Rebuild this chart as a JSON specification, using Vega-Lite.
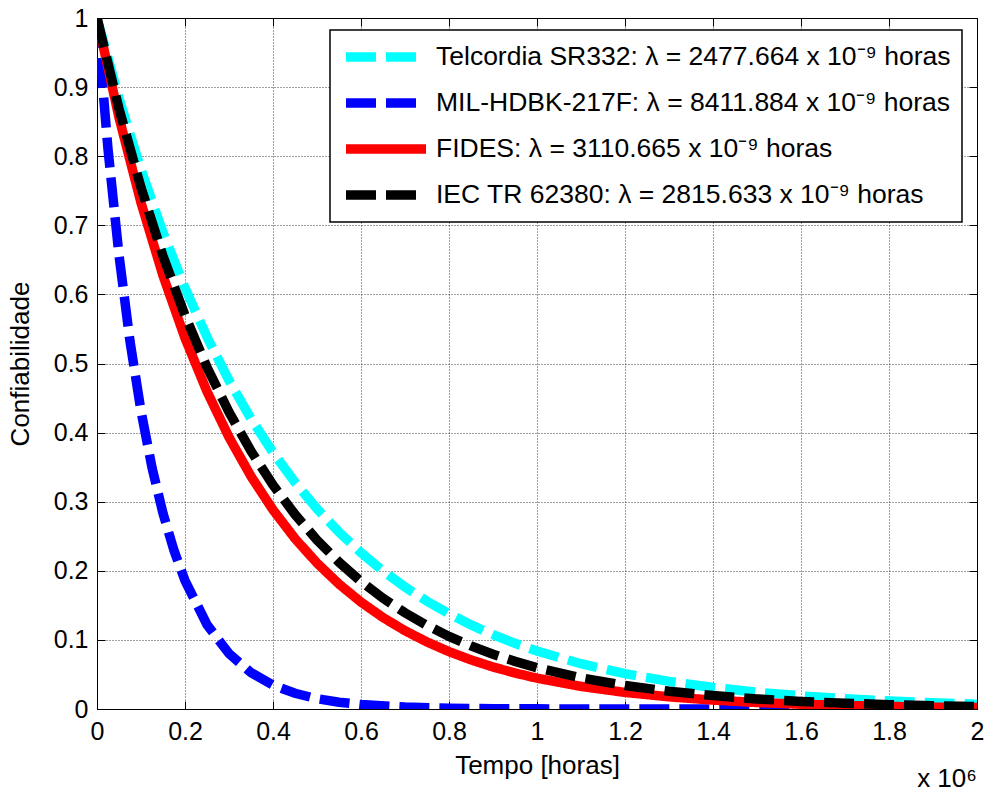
{
  "$schema": "https://vega.github.io/schema/vega-lite/v6.json",
  "autosize": "none",
  "width": 880,
  "height": 691,
  "padding": {"left": 97, "top": 18, "right": 9, "bottom": 83},
  "background": "white",
  "datasets": {
    "curvas": [
      {"serie": "Telcordia SR332", "tempo": 0, "R": 1},
      {"serie": "Telcordia SR332", "tempo": 0.05, "R": 0.8835},
      {"serie": "Telcordia SR332", "tempo": 0.1, "R": 0.7805},
      {"serie": "Telcordia SR332", "tempo": 0.15, "R": 0.6896},
      {"serie": "Telcordia SR332", "tempo": 0.2, "R": 0.6093},
      {"serie": "Telcordia SR332", "tempo": 0.25, "R": 0.5383},
      {"serie": "Telcordia SR332", "tempo": 0.3, "R": 0.4755},
      {"serie": "Telcordia SR332", "tempo": 0.35, "R": 0.4201},
      {"serie": "Telcordia SR332", "tempo": 0.4, "R": 0.3712},
      {"serie": "Telcordia SR332", "tempo": 0.45, "R": 0.3279},
      {"serie": "Telcordia SR332", "tempo": 0.5, "R": 0.2897},
      {"serie": "Telcordia SR332", "tempo": 0.55, "R": 0.256},
      {"serie": "Telcordia SR332", "tempo": 0.6, "R": 0.2261},
      {"serie": "Telcordia SR332", "tempo": 0.65, "R": 0.1998},
      {"serie": "Telcordia SR332", "tempo": 0.7, "R": 0.1765},
      {"serie": "Telcordia SR332", "tempo": 0.75, "R": 0.1559},
      {"serie": "Telcordia SR332", "tempo": 0.8, "R": 0.1378},
      {"serie": "Telcordia SR332", "tempo": 0.85, "R": 0.1217},
      {"serie": "Telcordia SR332", "tempo": 0.9, "R": 0.1075},
      {"serie": "Telcordia SR332", "tempo": 0.95, "R": 0.095},
      {"serie": "Telcordia SR332", "tempo": 1.0, "R": 0.0839},
      {"serie": "Telcordia SR332", "tempo": 1.1, "R": 0.0655},
      {"serie": "Telcordia SR332", "tempo": 1.2, "R": 0.0511},
      {"serie": "Telcordia SR332", "tempo": 1.3, "R": 0.0399},
      {"serie": "Telcordia SR332", "tempo": 1.4, "R": 0.0312},
      {"serie": "Telcordia SR332", "tempo": 1.5, "R": 0.0243},
      {"serie": "Telcordia SR332", "tempo": 1.6, "R": 0.019},
      {"serie": "Telcordia SR332", "tempo": 1.7, "R": 0.0148},
      {"serie": "Telcordia SR332", "tempo": 1.8, "R": 0.0116},
      {"serie": "Telcordia SR332", "tempo": 1.9, "R": 0.009},
      {"serie": "Telcordia SR332", "tempo": 2.0, "R": 0.007},
      {"serie": "MIL-HDBK-217F", "tempo": 0, "R": 1},
      {"serie": "MIL-HDBK-217F", "tempo": 0.025, "R": 0.8103},
      {"serie": "MIL-HDBK-217F", "tempo": 0.05, "R": 0.6566},
      {"serie": "MIL-HDBK-217F", "tempo": 0.075, "R": 0.5321},
      {"serie": "MIL-HDBK-217F", "tempo": 0.1, "R": 0.4312},
      {"serie": "MIL-HDBK-217F", "tempo": 0.125, "R": 0.3494},
      {"serie": "MIL-HDBK-217F", "tempo": 0.15, "R": 0.2831},
      {"serie": "MIL-HDBK-217F", "tempo": 0.175, "R": 0.2294},
      {"serie": "MIL-HDBK-217F", "tempo": 0.2, "R": 0.1859},
      {"serie": "MIL-HDBK-217F", "tempo": 0.25, "R": 0.1221},
      {"serie": "MIL-HDBK-217F", "tempo": 0.3, "R": 0.0802},
      {"serie": "MIL-HDBK-217F", "tempo": 0.35, "R": 0.0527},
      {"serie": "MIL-HDBK-217F", "tempo": 0.4, "R": 0.0346},
      {"serie": "MIL-HDBK-217F", "tempo": 0.45, "R": 0.0227},
      {"serie": "MIL-HDBK-217F", "tempo": 0.5, "R": 0.0149},
      {"serie": "MIL-HDBK-217F", "tempo": 0.55, "R": 0.0098},
      {"serie": "MIL-HDBK-217F", "tempo": 0.6, "R": 0.0064},
      {"serie": "MIL-HDBK-217F", "tempo": 0.7, "R": 0.0028},
      {"serie": "MIL-HDBK-217F", "tempo": 0.8, "R": 0.0012},
      {"serie": "MIL-HDBK-217F", "tempo": 0.9, "R": 0.0005},
      {"serie": "MIL-HDBK-217F", "tempo": 1.0, "R": 0.0002},
      {"serie": "MIL-HDBK-217F", "tempo": 1.2, "R": 0.00004},
      {"serie": "MIL-HDBK-217F", "tempo": 1.4, "R": 0},
      {"serie": "MIL-HDBK-217F", "tempo": 1.6, "R": 0},
      {"serie": "MIL-HDBK-217F", "tempo": 1.8, "R": 0},
      {"serie": "MIL-HDBK-217F", "tempo": 2.0, "R": 0},
      {"serie": "FIDES", "tempo": 0, "R": 1},
      {"serie": "FIDES", "tempo": 0.05, "R": 0.856},
      {"serie": "FIDES", "tempo": 0.1, "R": 0.7327},
      {"serie": "FIDES", "tempo": 0.15, "R": 0.6272},
      {"serie": "FIDES", "tempo": 0.2, "R": 0.5368},
      {"serie": "FIDES", "tempo": 0.25, "R": 0.4595},
      {"serie": "FIDES", "tempo": 0.3, "R": 0.3933},
      {"serie": "FIDES", "tempo": 0.35, "R": 0.3367},
      {"serie": "FIDES", "tempo": 0.4, "R": 0.2882},
      {"serie": "FIDES", "tempo": 0.45, "R": 0.2467},
      {"serie": "FIDES", "tempo": 0.5, "R": 0.2112},
      {"serie": "FIDES", "tempo": 0.55, "R": 0.1808},
      {"serie": "FIDES", "tempo": 0.6, "R": 0.1547},
      {"serie": "FIDES", "tempo": 0.65, "R": 0.1324},
      {"serie": "FIDES", "tempo": 0.7, "R": 0.1133},
      {"serie": "FIDES", "tempo": 0.75, "R": 0.097},
      {"serie": "FIDES", "tempo": 0.8, "R": 0.083},
      {"serie": "FIDES", "tempo": 0.85, "R": 0.0711},
      {"serie": "FIDES", "tempo": 0.9, "R": 0.0608},
      {"serie": "FIDES", "tempo": 0.95, "R": 0.0521},
      {"serie": "FIDES", "tempo": 1.0, "R": 0.0446},
      {"serie": "FIDES", "tempo": 1.1, "R": 0.0327},
      {"serie": "FIDES", "tempo": 1.2, "R": 0.024},
      {"serie": "FIDES", "tempo": 1.3, "R": 0.0176},
      {"serie": "FIDES", "tempo": 1.4, "R": 0.0129},
      {"serie": "FIDES", "tempo": 1.5, "R": 0.0094},
      {"serie": "FIDES", "tempo": 1.6, "R": 0.0069},
      {"serie": "FIDES", "tempo": 1.7, "R": 0.0051},
      {"serie": "FIDES", "tempo": 1.8, "R": 0.0037},
      {"serie": "FIDES", "tempo": 1.9, "R": 0.0027},
      {"serie": "FIDES", "tempo": 2.0, "R": 0.002},
      {"serie": "IEC TR 62380", "tempo": 0, "R": 1},
      {"serie": "IEC TR 62380", "tempo": 0.05, "R": 0.8687},
      {"serie": "IEC TR 62380", "tempo": 0.1, "R": 0.7546},
      {"serie": "IEC TR 62380", "tempo": 0.15, "R": 0.6555},
      {"serie": "IEC TR 62380", "tempo": 0.2, "R": 0.5694},
      {"serie": "IEC TR 62380", "tempo": 0.25, "R": 0.4946},
      {"serie": "IEC TR 62380", "tempo": 0.3, "R": 0.4297},
      {"serie": "IEC TR 62380", "tempo": 0.35, "R": 0.3733},
      {"serie": "IEC TR 62380", "tempo": 0.4, "R": 0.3242},
      {"serie": "IEC TR 62380", "tempo": 0.45, "R": 0.2816},
      {"serie": "IEC TR 62380", "tempo": 0.5, "R": 0.2446},
      {"serie": "IEC TR 62380", "tempo": 0.55, "R": 0.2125},
      {"serie": "IEC TR 62380", "tempo": 0.6, "R": 0.1846},
      {"serie": "IEC TR 62380", "tempo": 0.65, "R": 0.1604},
      {"serie": "IEC TR 62380", "tempo": 0.7, "R": 0.1393},
      {"serie": "IEC TR 62380", "tempo": 0.75, "R": 0.121},
      {"serie": "IEC TR 62380", "tempo": 0.8, "R": 0.1051},
      {"serie": "IEC TR 62380", "tempo": 0.85, "R": 0.0913},
      {"serie": "IEC TR 62380", "tempo": 0.9, "R": 0.0793},
      {"serie": "IEC TR 62380", "tempo": 0.95, "R": 0.0689},
      {"serie": "IEC TR 62380", "tempo": 1.0, "R": 0.0598},
      {"serie": "IEC TR 62380", "tempo": 1.1, "R": 0.0451},
      {"serie": "IEC TR 62380", "tempo": 1.2, "R": 0.0341},
      {"serie": "IEC TR 62380", "tempo": 1.3, "R": 0.0257},
      {"serie": "IEC TR 62380", "tempo": 1.4, "R": 0.0194},
      {"serie": "IEC TR 62380", "tempo": 1.5, "R": 0.0146},
      {"serie": "IEC TR 62380", "tempo": 1.6, "R": 0.011},
      {"serie": "IEC TR 62380", "tempo": 1.7, "R": 0.0083},
      {"serie": "IEC TR 62380", "tempo": 1.8, "R": 0.0063},
      {"serie": "IEC TR 62380", "tempo": 1.9, "R": 0.0048},
      {"serie": "IEC TR 62380", "tempo": 2.0, "R": 0.0036}
    ],
    "escala": [
      {"tempo": 2, "R": -0.101, "rotulo": "x 10⁶"}
    ]
  },
  "layer": [
    {
      "data": {"name": "curvas"},
      "mark": {"type": "line", "strokeWidth": 9.5, "strokeCap": "butt", "clip": true},
      "encoding": {
        "x": {
          "field": "tempo", "type": "quantitative",
          "scale": {"domain": [0, 2], "nice": false, "zero": false},
          "axis": {
            "orient": "bottom",
            "title": "Tempo [horas]",
            "values": [0, 0.2, 0.4, 0.6, 0.8, 1, 1.2, 1.4, 1.6, 1.8, 2],
            "format": "~g",
            "labelPadding": 18,
            "titlePadding": 8,
            "grid": true
          }
        },
        "y": {
          "field": "R", "type": "quantitative",
          "scale": {"domain": [0, 1], "nice": false, "zero": false},
          "axis": {
            "orient": "left",
            "title": "Confiabilidade",
            "values": [0, 0.1, 0.2, 0.3, 0.4, 0.5, 0.6, 0.7, 0.8, 0.9, 1],
            "format": "~g",
            "labelPadding": 17,
            "titlePadding": 20,
            "grid": true
          }
        },
        "color": {
          "field": "serie", "type": "nominal",
          "scale": {
            "domain": ["Telcordia SR332", "MIL-HDBK-217F", "FIDES", "IEC TR 62380"],
            "range": ["#00FFFF", "#0000FF", "#FF0000", "#000000"]
          },
          "legend": {
            "labelExpr": "datum.label == 'Telcordia SR332' ? 'Telcordia SR332: λ = 2477.664 x 10⁻⁹ horas' : datum.label == 'MIL-HDBK-217F' ? 'MIL-HDBK-217F: λ = 8411.884 x 10⁻⁹ horas' : datum.label == 'FIDES' ? 'FIDES: λ = 3110.665 x 10⁻⁹ horas' : 'IEC TR 62380: λ = 2815.633 x 10⁻⁹ horas'"
          }
        },
        "strokeDash": {
          "field": "serie", "type": "nominal",
          "scale": {
            "domain": ["Telcordia SR332", "MIL-HDBK-217F", "FIDES", "IEC TR 62380"],
            "range": [[30, 10], [30, 10], [1, 0], [30, 10]]
          },
          "legend": {
            "labelExpr": "datum.label == 'Telcordia SR332' ? 'Telcordia SR332: λ = 2477.664 x 10⁻⁹ horas' : datum.label == 'MIL-HDBK-217F' ? 'MIL-HDBK-217F: λ = 8411.884 x 10⁻⁹ horas' : datum.label == 'FIDES' ? 'FIDES: λ = 3110.665 x 10⁻⁹ horas' : 'IEC TR 62380: λ = 2815.633 x 10⁻⁹ horas'"
          }
        }
      }
    },
    {
      "data": {"name": "escala"},
      "mark": {"type": "text", "align": "right", "baseline": "middle", "fontSize": 26, "font": "Liberation Sans", "color": "black", "clip": false},
      "encoding": {
        "x": {
          "field": "tempo", "type": "quantitative",
          "axis": {"orient": "top", "title": null, "labels": false, "grid": false, "domain": false, "values": [0, 0.2, 0.4, 0.6, 0.8, 1, 1.2, 1.4, 1.6, 1.8, 2]}
        },
        "y": {
          "field": "R", "type": "quantitative",
          "axis": {"orient": "right", "title": null, "labels": false, "grid": false, "domain": false, "values": [0, 0.1, 0.2, 0.3, 0.4, 0.5, 0.6, 0.7, 0.8, 0.9, 1]}
        },
        "text": {"field": "rotulo"}
      }
    }
  ],
  "resolve": {"axis": {"x": "independent", "y": "independent"}},
  "config": {
    "font": "Liberation Sans",
    "view": {"stroke": "black", "strokeWidth": 1},
    "axis": {
      "domain": false,
      "ticks": true,
      "tickSize": -8,
      "tickColor": "black",
      "tickWidth": 1,
      "labelFont": "Liberation Sans",
      "labelFontSize": 25,
      "labelColor": "black",
      "titleFont": "Liberation Sans",
      "titleFontSize": 26,
      "titleFontWeight": "normal",
      "titleColor": "black",
      "gridColor": "#000000",
      "gridOpacity": 0.75,
      "gridDash": [1, 2],
      "gridWidth": 1,
      "labelFlush": false,
      "labelOverlap": false
    },
    "legend": {
      "orient": "none",
      "legendX": 233,
      "legendY": 12,
      "title": null,
      "fillColor": "white",
      "strokeColor": "black",
      "strokeWidth": 1.5,
      "padding": 11,
      "rowPadding": 14,
      "clipHeight": 32,
      "labelFont": "Liberation Sans",
      "labelFontSize": 26.5,
      "labelColor": "black",
      "labelLimit": 800,
      "labelOffset": 5,
      "symbolType": "stroke",
      "symbolSize": 6400,
      "symbolStrokeWidth": 9.5
    }
  }
}
